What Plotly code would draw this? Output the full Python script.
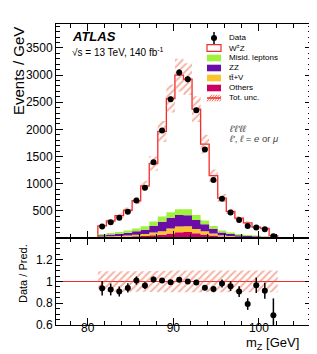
import plotly.graph_objects as go

# ---------------- data ----------------
bin_edges = [81.19, 82.19, 83.19, 84.19, 85.19, 86.19, 87.19, 88.19, 89.19, 90.19, 91.19,
             92.19, 93.19, 94.19, 95.19, 96.19, 97.19, 98.19, 99.19, 100.19, 101.19, 102.19]
bin_centers = [81.69, 82.69, 83.69, 84.69, 85.69, 86.69, 87.69, 88.69, 89.69, 90.69, 91.69,
               92.69, 93.69, 94.69, 95.69, 96.69, 97.69, 98.69, 99.69, 100.69, 101.69]

others = [14, 17, 20, 24, 30, 37, 50, 62, 85, 108, 110, 88, 66, 44, 26, 18, 13, 9, 7, 5, 3]
ttv = [12, 15, 18, 22, 28, 35, 50, 64, 90, 105, 106, 80, 60, 40, 24, 17, 12, 9, 7, 5, 3]
zz = [26, 33, 40, 50, 65, 82, 120, 175, 200, 210, 205, 165, 125, 86, 52, 37, 27, 20, 16, 11, 6]
misid = [22, 28, 33, 41, 51, 62, 83, 95, 100, 108, 110, 92, 71, 52, 35, 28, 22, 17, 14, 10, 6]
wz = [151, 220, 302, 374, 512, 745, 1067, 1566, 2093, 2468, 2392, 1946, 1406, 925, 598, 391,
      293, 225, 155, 145, 27]

data = [211, 290, 375, 481, 692, 925, 1395, 1980, 2553, 3047, 2923, 2350, 1628, 1067, 722,
        470, 333, 222, 192, 161, 31]
data_err = [15, 17, 19, 22, 26, 30, 37, 44, 51, 55, 54, 48, 40, 33, 27, 22, 18, 15, 14, 13, 7]

rel_unc = [0.095, 0.095, 0.095, 0.095, 0.095, 0.095, 0.097, 0.098, 0.1, 0.1, 0.1, 0.1, 0.1,
           0.1, 0.1, 0.1, 0.1, 0.1, 0.1, 0.1, 0.1]

main_yticks = [500, 1000, 1500, 2000, 2500, 3000, 3500]
ratio_yticks = [0.6, 0.8, 1.0, 1.2]
ratio_ylabels = ["0.6", "0.8", "1", "1.2"]
x_ticks = [80, 90, 100]

legend_labels = ["Data", "W<sup>±</sup>Z", "Misid. leptons", "ZZ", "tt̄+V", "Others", "Tot. unc."]

# ---------------- styles ----------------
C_GREEN = "#9ef23c"
C_PURPLE = "#6a0ca6"
C_YELLOW = "#fcc42c"
C_MAGENTA = "#cc0062"
C_RED = "#f52a2a"
C_HATCH = "#ee6448"
FONT = "Liberation Sans, Arial, sans-serif"

# figure geometry (pixels)
W, H = 317, 354
L, R, T, B = 48, 304, 16, 317
SPLIT = 230


def px2x(px):
    return (px - L) / (R - L)


def px2y(py):
    return (B - py) / (B - T)


def cumsum(*lists):
    out = []
    for vals in zip(*lists):
        out.append(sum(vals))
    return out


def step(vals):
    return list(bin_edges), list(vals) + [vals[-1]]


lvl1 = cumsum(others)
lvl2 = cumsum(others, ttv)
lvl3 = cumsum(others, ttv, zz)
lvl4 = cumsum(others, ttv, zz, misid)
total = cumsum(others, ttv, zz, misid, wz)
ratio = [d / p for d, p in zip(data, total)]
ratio_err = [e / p for e, p in zip(data_err, total)]
unc_lo = [p * (1 - u) for p, u in zip(total, rel_unc)]
unc_hi = [p * (1 + u) for p, u in zip(total, rel_unc)]
r_lo = [1 - u for u in rel_unc]
r_hi = [1 + u for u in rel_unc]

hatch = dict(shape="/", fgcolor=C_HATCH, bgcolor="rgba(0,0,0,0)", size=5, solidity=0.4)

fig = go.Figure()

# WZ (white with red outline) as total
ox = [bin_edges[0]] + list(bin_edges) + [bin_edges[-1]]
oy = [0] + list(total) + [total[-1], 0]
fig.add_trace(go.Scatter(x=ox, y=oy, mode="lines", line=dict(color=C_RED, width=1.3, shape="hv"),
                         fill="toself", fillcolor="white", hoverinfo="skip", showlegend=False))

# background stack
for lvl, col, fillmode in [(lvl1, C_MAGENTA, "tozeroy"), (lvl2, C_YELLOW, "tonexty"),
                           (lvl3, C_PURPLE, "tonexty"), (lvl4, C_GREEN, "tonexty")]:
    sx, sy = step(lvl)
    fig.add_trace(go.Scatter(x=sx, y=sy, mode="lines", line=dict(width=0, shape="hv", color=col),
                             fill=fillmode, fillcolor=col, hoverinfo="skip", showlegend=False))

# uncertainty band (main)
sx, sy = step(unc_lo)
fig.add_trace(go.Scatter(x=sx, y=sy, mode="lines", line=dict(width=0, shape="hv"),
                         hoverinfo="skip", showlegend=False))
sx, sy = step(unc_hi)
fig.add_trace(go.Scatter(x=sx, y=sy, mode="lines", line=dict(width=0, shape="hv"),
                         fill="tonexty", fillcolor="rgba(0,0,0,0)", fillpattern=hatch,
                         hoverinfo="skip", showlegend=False))

# data
fig.add_trace(go.Scatter(x=bin_centers, y=data, mode="markers",
                         marker=dict(color="black", size=6),
                         error_y=dict(type="data", array=data_err, color="black", thickness=1.5, width=0),
                         showlegend=False))

# ratio band
sx, sy = step(r_lo)
fig.add_trace(go.Scatter(x=sx, y=sy, xaxis="x2", yaxis="y2", mode="lines",
                         line=dict(width=0, shape="hv"), hoverinfo="skip", showlegend=False))
sx, sy = step(r_hi)
fig.add_trace(go.Scatter(x=sx, y=sy, xaxis="x2", yaxis="y2", mode="lines",
                         line=dict(width=0, shape="hv"),
                         fill="tonexty", fillcolor="rgba(0,0,0,0)", fillpattern=hatch,
                         hoverinfo="skip", showlegend=False))

fig.add_trace(go.Scatter(x=bin_centers, y=ratio, xaxis="x2", yaxis="y2", mode="markers",
                         marker=dict(color="black", size=6),
                         error_y=dict(type="data", array=ratio_err, color="black", thickness=1.5, width=0),
                         showlegend=False))

shapes = []
# ratio = 1 line
shapes.append(dict(type="line", xref="x2 domain", yref="y2", x0=0, x1=1, y0=1, y1=1,
                   line=dict(color=C_RED, width=1.2), layer="below"))

annotations = []
# legend (manual)
row_y = [30, 40, 50, 60, 70, 80, 90]
bx0, bx1 = 199, 213
tx = 219
for i, lab in enumerate(legend_labels):
    yc = row_y[i]
    annotations.append(dict(text=lab, xref="paper", yref="paper", x=px2x(tx), y=px2y(yc),
                            xanchor="left", yanchor="middle", showarrow=False,
                            font=dict(size=8, family=FONT, color="black")))
# data marker
shapes.append(dict(type="line", xref="paper", yref="paper", x0=px2x(206), x1=px2x(206),
                   y0=px2y(row_y[0] - 6), y1=px2y(row_y[0] + 6), line=dict(color="black", width=1.5)))
shapes.append(dict(type="circle", xref="paper", yref="paper", x0=px2x(203), x1=px2x(209),
                   y0=px2y(row_y[0] - 3), y1=px2y(row_y[0] + 3), fillcolor="black",
                   line=dict(color="black", width=0)))
box_specs = [("white", C_RED), (C_GREEN, C_GREEN), (C_PURPLE, C_PURPLE), (C_YELLOW, C_YELLOW),
             (C_MAGENTA, C_MAGENTA)]
for k, (fc, lc) in enumerate(box_specs):
    yc = row_y[k + 1]
    shapes.append(dict(type="rect", xref="paper", yref="paper", x0=px2x(bx0), x1=px2x(bx1),
                       y0=px2y(yc + 3.3), y1=px2y(yc - 3.3), fillcolor=fc,
                       line=dict(color=lc, width=1.2 if k == 0 else 0)))
# tot unc legend: hatch + red line
yc = row_y[6]
hx = bx0
while hx < bx1:
    x_a = hx
    x_b = min(hx + 5, bx1)
    shapes.append(dict(type="line", xref="paper", yref="paper", x0=px2x(x_a), x1=px2x(x_b),
                       y0=px2y(yc + 3.3), y1=px2y(yc + 3.3 - (x_b - x_a) * 6.6 / 5),
                       line=dict(color=C_HATCH, width=1)))
    hx += 2.5
shapes.append(dict(type="line", xref="paper", yref="paper", x0=px2x(bx0), x1=px2x(bx1),
                   y0=px2y(yc), y1=px2y(yc), line=dict(color=C_RED, width=1.5)))

# texts
annotations.append(dict(text="<b><i>ATLAS</i></b>", xref="paper", yref="paper", x=px2x(62), y=px2y(28),
                        xanchor="left", yanchor="middle", showarrow=False,
                        font=dict(size=13, family=FONT, color="black")))
annotations.append(dict(text="√s = 13 TeV, 140 fb<sup>-1</sup>", xref="paper", yref="paper",
                        x=px2x(62), y=px2y(44), xanchor="left", yanchor="middle", showarrow=False,
                        font=dict(size=10, family=FONT, color="black")))
annotations.append(dict(text="<i>ℓ′ℓ′ℓℓ</i>", xref="paper", yref="paper", x=px2x(219), y=px2y(120),
                        xanchor="left", yanchor="middle", showarrow=False,
                        font=dict(size=9.5, family=FONT, color="#444")))
annotations.append(dict(text="<i>ℓ′</i>, <i>ℓ</i> = <i>e</i> or <i>μ</i>", xref="paper", yref="paper",
                        x=px2x(219), y=px2y(130), xanchor="left", yanchor="middle", showarrow=False,
                        font=dict(size=9.5, family=FONT, color="#444")))
# axis titles
annotations.append(dict(text="Events / GeV", xref="paper", yref="paper", x=px2x(10), y=px2y(63),
                        xanchor="center", yanchor="middle", textangle=-90, showarrow=False,
                        font=dict(size=15, family=FONT, color="black")))
annotations.append(dict(text="Data / Pred.", xref="paper", yref="paper", x=px2x(15), y=px2y(266),
                        xanchor="center", yanchor="middle", textangle=-90, showarrow=False,
                        font=dict(size=11, family=FONT, color="black")))
annotations.append(dict(text="m<sub>Z</sub> [GeV]", xref="paper", yref="paper", x=px2x(236), y=px2y(335),
                        xanchor="left", yanchor="middle", showarrow=False,
                        font=dict(size=13, family=FONT, color="black")))

split_frac = px2y(SPLIT)
xr = [76.3, 106.2]
axis_common = dict(showline=True, linecolor="black", linewidth=1, mirror="ticks", ticks="inside",
                   ticklen=7, tickcolor="black", showgrid=False, zeroline=False,
                   tickfont=dict(size=12, family=FONT, color="black"))

fig.update_layout(
    width=W, height=H,
    margin=dict(l=L, r=W - R, t=T, b=H - B, pad=0),
    plot_bgcolor="white", paper_bgcolor="white",
    showlegend=False,
    xaxis=dict(range=xr, domain=[0, 1], anchor="y", tickvals=x_ticks, showticklabels=False,
               minor=dict(dtick=2, tick0=0, ticklen=4, ticks="inside", tickcolor="black"),
               **axis_common),
    yaxis=dict(range=[0, 3940], domain=[split_frac, 1], anchor="x", tickvals=main_yticks,
               minor=dict(dtick=100, tick0=0, ticklen=4, ticks="inside", tickcolor="black"),
               **axis_common),
    xaxis2=dict(range=xr, domain=[0, 1], anchor="y2", tickvals=x_ticks, matches="x",
                ticklabelstandoff=-8,
                minor=dict(dtick=2, tick0=0, ticklen=4, ticks="inside", tickcolor="black"),
                **axis_common),
    yaxis2=dict(range=[0.6, 1.4], domain=[0, split_frac], anchor="x2", tickvals=ratio_yticks,
                ticktext=ratio_ylabels,
                minor=dict(dtick=0.05, tick0=0, ticklen=4, ticks="inside", tickcolor="black"),
                **axis_common),
    shapes=shapes,
    annotations=annotations,
)

fig.write_html("out.html")
